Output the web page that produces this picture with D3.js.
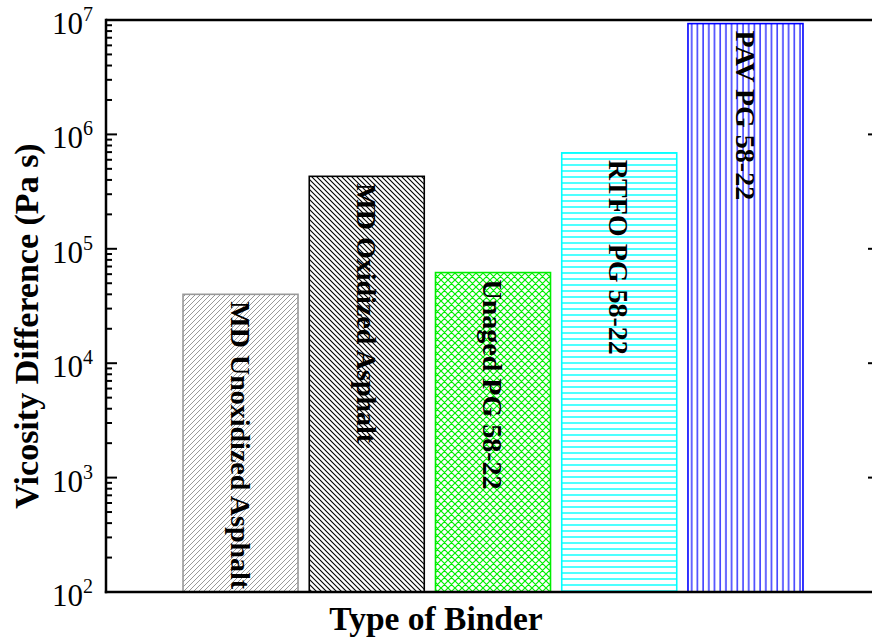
<!DOCTYPE html>
<html><head><meta charset="utf-8">
<script src="https://cdn.jsdelivr.net/npm/d3@7"></script>
<style>body{margin:0;background:#fff}svg{display:block}</style>
</head><body>
<svg id="c" width="872" height="642"></svg>
<script>
const categories = ["MD Unoxidized Asphalt","MD Oxidized Asphalt","Unaged PG 58-22","RTFO PG 58-22","PAV PG 58-22"];
const values = [40000, 430000, 62000, 690000, 9300000];
const tickExps = [2,3,4,5,6,7];
const colors = ["#999999","#000000","#00ee00","#00ffff","#0000ff"];

const svg = d3.select("#c");
const L = 106, R = 879, T = 20, B = 592;
const y = d3.scaleLog().domain([100, 1e7]).range([B, T]);
const x = d3.scaleBand().domain(categories).range([177.4, 808.6]).paddingInner(0.089).paddingOuter(0.0445);

const defs = svg.append("defs");
function pat(id, w, h, draw){ const p = defs.append("pattern").attr("id",id).attr("patternUnits","userSpaceOnUse").attr("width",w).attr("height",h); draw(p); }
pat("p0", 5, 5, p => p.append("path").attr("d","M-1,1 L1,-1 M0,5 L5,0 M4,6 L6,4").attr("stroke","#999").attr("stroke-width",1));
pat("p1", 5, 5, p => p.append("path").attr("d","M-1,4 L1,6 M0,0 L5,5 M4,-1 L6,1").attr("stroke","#000").attr("stroke-width",1.1));
pat("p2", 7, 7, p => { p.append("path").attr("d","M-1,1 L1,-1 M0,7 L7,0 M6,8 L8,6 M-1,6 L1,8 M0,0 L7,7 M6,-1 L8,1").attr("stroke","#00ee00").attr("stroke-width",1.2); });
pat("p3", 6, 6, p => p.append("line").attr("x1",0).attr("x2",6).attr("y1",3).attr("y2",3).attr("stroke","#00ffff").attr("stroke-width",1.4));
pat("p4", 5.7, 6, p => p.append("line").attr("x1",2).attr("x2",2).attr("y1",0).attr("y2",6).attr("stroke","#0000ff").attr("stroke-width",1.2));

const g = svg.append("g");
g.selectAll("rect.bar").data(categories).join("rect")
  .attr("class","bar")
  .attr("x", d => x(d)).attr("width", x.bandwidth())
  .attr("y", (d,i) => y(values[i])).attr("height", (d,i) => B - y(values[i]))
  .attr("fill", (d,i) => "url(#p"+i+")")
  .attr("stroke", (d,i) => colors[i]).attr("stroke-width", 1.6);

g.selectAll("text.bl").data(categories).join("text")
  .attr("class","bl")
  .attr("transform", (d,i) => `translate(${x(d)+x.bandwidth()/2},${y(values[i])+7}) rotate(90)`)
  .attr("dy","0.35em")
  .attr("font-family","'Liberation Serif','Times New Roman',serif")
  .attr("font-weight","bold").attr("font-size",28)
  .attr("fill","#000")
  .text(d => d);

const ax = svg.append("g").attr("stroke","#000").attr("stroke-width",2.5).attr("fill","none");
ax.append("line").attr("x1",L).attr("x2",L).attr("y1",T-1.2).attr("y2",B+1.2);
ax.append("line").attr("x1",L).attr("x2",R).attr("y1",T).attr("y2",T);
ax.append("line").attr("x1",L-1.2).attr("x2",R).attr("y1",B).attr("y2",B);
ax.append("line").attr("x1",R).attr("x2",R).attr("y1",T).attr("y2",B);

const minor = [];
tickExps.slice(0,-1).forEach(e => { for (let k=2;k<=9;k++) minor.push(k*Math.pow(10,e)); });
const tg = svg.append("g").attr("stroke","#000").attr("stroke-width",2);
tg.selectAll("line.mj").data(tickExps).join("line").attr("class","mj")
  .attr("x1",L).attr("x2",L+11).attr("y1",e=>y(Math.pow(10,e))).attr("y2",e=>y(Math.pow(10,e)));
tg.selectAll("line.mn").data(minor).join("line").attr("class","mn")
  .attr("x1",L).attr("x2",L+6).attr("y1",v=>y(v)).attr("y2",v=>y(v));
tg.selectAll("line.rj").data(tickExps).join("line").attr("class","rj")
  .attr("x1",R).attr("x2",R-11).attr("y1",e=>y(Math.pow(10,e))).attr("y2",e=>y(Math.pow(10,e)));

const tl = svg.append("g").attr("font-family","'Liberation Serif','Times New Roman',serif").attr("fill","#000");
tickExps.forEach(e => {
  const t = tl.append("text").attr("x",93).attr("y",y(Math.pow(10,e))+14).attr("text-anchor","end").attr("font-size",31);
  t.append("tspan").text("10");
  t.append("tspan").attr("dy",-13).attr("font-size",20).text(String(e));
});

svg.append("text").attr("x",436).attr("y",630).attr("text-anchor","middle")
  .attr("font-family","'Liberation Serif','Times New Roman',serif").attr("font-weight","bold").attr("font-size",33.5)
  .text("Type of Binder");
svg.append("text").attr("transform","translate(38,326) rotate(-90)").attr("text-anchor","middle")
  .attr("font-family","'Liberation Serif','Times New Roman',serif").attr("font-weight","bold").attr("font-size",34)
  .text("Vicosity Difference (Pa s)");
</script>
</body></html>
